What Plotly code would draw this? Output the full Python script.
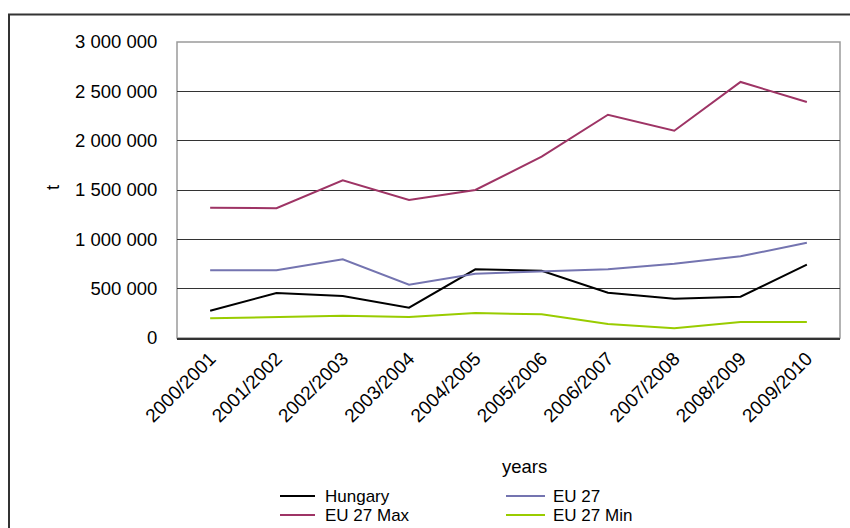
import plotly.graph_objects as go

# Marketing years and tonnage series (t)
years = ["2000/2001", "2001/2002", "2002/2003", "2003/2004", "2004/2005",
         "2005/2006", "2006/2007", "2007/2008", "2008/2009", "2009/2010"]
hungary = [277000, 456000, 426000, 307000, 696000, 682000, 459000, 398000, 419000, 743000]
eu27 = [686000, 686000, 798000, 540000, 652000, 672000, 696000, 753000, 828000, 966000]
eu27_max = [1321000, 1315000, 1598000, 1399000, 1500000, 1838000, 2263000, 2101000, 2595000, 2392000]
eu27_min = [200000, 210000, 226000, 213000, 253000, 240000, 142000, 98000, 162000, 162000]

series_names = ["Hungary", "EU 27", "EU 27 Max", "EU 27 Min"]
series_values = [hungary, eu27, eu27_max, eu27_min]
series_colors = ["#000000", "#7474B0", "#9E3465", "#99CC00"]

W, H = 850, 528
ML, MR, MT, MB = 177, 10, 42, 190
PW, PH = W - ML - MR, H - MT - MB
FONT = "Liberation Sans, Arial, sans-serif"
FS = 18.5
LEG_FS = 17


def px(x):
    return (x - ML) / PW


def py(y):
    return (H - MB - y) / PH


fig = go.Figure()
for name, vals, col in zip(series_names, series_values, series_colors):
    fig.add_trace(go.Scatter(x=years, y=vals, name=name, mode="lines",
                             line=dict(color=col, width=2), showlegend=False))

shapes = [
    # outer chart frame
    dict(type="rect", xref="paper", yref="paper", x0=px(9), x1=px(852), y0=py(540), y1=py(14.5),
         line=dict(color="#333333", width=2), layer="below"),
    # plot area frame
    dict(type="rect", xref="paper", yref="paper", x0=0, x1=1, y0=0, y1=1,
         line=dict(color="#9A9A9A", width=1.5), layer="below"),
]

annotations = [
    dict(text="years", xref="paper", yref="paper", x=px(524), y=py(466), showarrow=False,
         font=dict(family=FONT, size=FS, color="black"), xanchor="center", yanchor="middle"),
    dict(text="t", xref="paper", yref="paper", x=px(52), y=py(188), showarrow=False, textangle=-90,
         font=dict(family=FONT, size=FS, color="black"), xanchor="center", yanchor="middle"),
]

# legend: two columns, two rows
leg_cols = [(280, 315, 323), (506, 545, 551)]
leg_rows = [496, 515]
for i, (name, col) in enumerate(zip(series_names, series_colors)):
    r, c = divmod(i, 2)
    x0, x1, xt = leg_cols[c]
    yrow = leg_rows[r]
    shapes.append(dict(type="line", xref="paper", yref="paper", x0=px(x0), x1=px(x1),
                       y0=py(yrow), y1=py(yrow), line=dict(color=col, width=2)))
    annotations.append(dict(text=name, xref="paper", yref="paper", x=px(xt), y=py(yrow),
                            showarrow=False, xanchor="left", yanchor="middle",
                            font=dict(family=FONT, size=LEG_FS, color="black")))

fig.update_layout(
    width=W, height=H,
    margin=dict(l=ML, r=MR, t=MT, b=MB),
    paper_bgcolor="white", plot_bgcolor="white",
    separators=". ",
    font=dict(family=FONT, size=FS, color="black"),
    shapes=shapes, annotations=annotations,
    xaxis=dict(type="category", range=[-0.5, 9.5], tickangle=-45, showgrid=False,
               showline=True, linecolor="#333333", linewidth=2, ticks="", zeroline=False,
               tickfont=dict(family=FONT, size=19, color="black")),
    yaxis=dict(range=[0, 3000000], dtick=500000, tickformat=",d", showgrid=True,
               gridcolor="#333333", gridwidth=1, zeroline=False, showline=False,
               ticks="outside", ticklen=15, tickcolor="rgba(0,0,0,0)",
               tickfont=dict(family=FONT, size=FS, color="black")),
)

fig.write_html("out.html")
